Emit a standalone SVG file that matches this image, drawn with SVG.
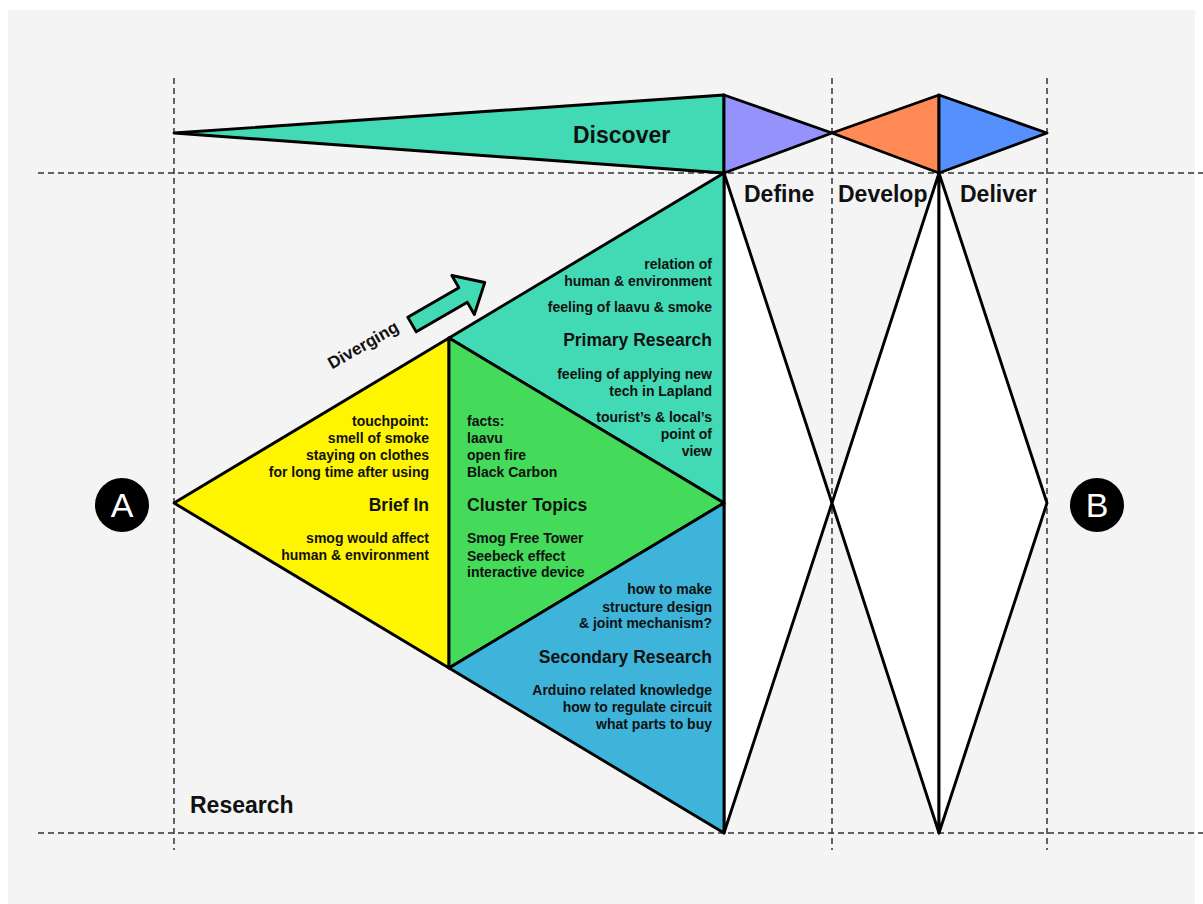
<svg xmlns="http://www.w3.org/2000/svg" width="1203" height="904" viewBox="0 0 1203 904">
<style>
.sh{stroke:#000;stroke-width:2.9;stroke-linejoin:round}
.guide{stroke:#333;stroke-width:1.5;stroke-dasharray:6 4;fill:none}
text{font-family:"Liberation Sans",Arial,sans-serif;font-weight:bold;fill:#111}
.t{font-size:14px}
.h{font-size:17.5px}
.ti{font-size:23px}
.r{text-anchor:end}
.c{font-size:34px;font-weight:normal;fill:#fff;text-anchor:middle}
</style>
<rect x="0" y="0" width="1203" height="904" fill="#ffffff"/>
<rect x="8" y="10" width="1187" height="894" fill="#f4f4f4"/>
<g id="guides">
<line class="guide" x1="38" y1="173" x2="1203" y2="173"/>
<line class="guide" x1="38" y1="833" x2="1203" y2="833"/>
<line class="guide" x1="174" y1="78" x2="174" y2="850"/>
<line class="guide" x1="832" y1="78" x2="832" y2="850"/>
<line class="guide" x1="1047" y1="78" x2="1047" y2="850"/>
</g>
<g id="discover">
<polygon class="sh" points="174,133 724,95 724,173" fill="#41dab4"/>
<text class="ti" x="573" y="142.5">Discover</text>
</g>
<g id="define-top"><polygon class="sh" points="724,95 832,133 724,173" fill="#9692fc"/></g>
<g id="develop-top"><polygon class="sh" points="832,133 939,95 939,173" fill="#ff8a56"/></g>
<g id="deliver-top"><polygon class="sh" points="939,95 1047,133 939,173" fill="#5590fc"/></g>
<g id="define">
<polygon class="sh" points="724,173 832,503 724,833" fill="#ffffff"/>
<text class="ti" x="744" y="201.5">Define</text>
</g>
<g id="develop">
<polygon class="sh" points="939,173 832,503 939,833" fill="#ffffff"/>
<text class="ti" x="838" y="201.5">Develop</text>
</g>
<g id="deliver">
<polygon class="sh" points="939,173 1047,503 939,833" fill="#ffffff"/>
<text class="ti" x="960" y="201.5">Deliver</text>
</g>
<g id="primary-research">
<polygon class="sh" points="449,338 724,173 724,503" fill="#41dab4"/>
<text class="t r" x="712" y="268.5">relation of </text>
<text class="t r" x="712" y="286">human &amp; environment</text>
<text class="t r" x="712" y="312">feeling of laavu &amp; smoke</text>
<text class="h r" x="712" y="346">Primary Research</text>
<text class="t r" x="712" y="379">feeling of applying new</text>
<text class="t r" x="712" y="396">tech in Lapland</text>
<text class="t r" x="712" y="421.5">tourist’s &amp; local’s</text>
<text class="t r" x="712" y="439">point of</text>
<text class="t r" x="712" y="456">view</text>
</g>
<g id="brief-in">
<polygon class="sh" points="174,503 449,338 449,668" fill="#fff500"/>
<text class="t r" x="429" y="425.5">touchpoint: </text>
<text class="t r" x="429" y="442.7">smell of smoke</text>
<text class="t r" x="429" y="459.5">staying on clothes</text>
<text class="t r" x="429" y="476.7">for long time after using</text>
<text class="h r" x="429" y="511">Brief In</text>
<text class="t r" x="429" y="543.3">smog would affect</text>
<text class="t r" x="429" y="560.3">human &amp; environment</text>
</g>
<g id="cluster-topics">
<polygon class="sh" points="449,338 724,503 449,668" fill="#44da5a"/>
<text class="t" x="467" y="425.5">facts:</text>
<text class="t" x="467" y="442.7">laavu</text>
<text class="t" x="467" y="459.5">open fire</text>
<text class="t" x="467" y="476.7">Black Carbon</text>
<text class="h" x="467" y="511">Cluster Topics</text>
<text class="t" x="467" y="543.3">Smog Free Tower</text>
<text class="t" x="467" y="560.5">Seebeck effect</text>
<text class="t" x="467" y="577.3">interactive device</text>
</g>
<g id="secondary-research">
<polygon class="sh" points="449,668 724,503 724,833" fill="#3eb4da"/>
<text class="t r" x="712" y="594">how to make</text>
<text class="t r" x="712" y="611.5">structure design</text>
<text class="t r" x="712" y="628.3">&amp; joint mechanism?</text>
<text class="h r" x="712" y="662.7">Secondary Research</text>
<text class="t r" x="712" y="695">Arduino related knowledge</text>
<text class="t r" x="712" y="712.3">how to regulate circuit</text>
<text class="t r" x="712" y="729.3">what parts to buy</text>
</g>
<g id="research-label">
<text class="ti" x="190" y="812.5">Research</text>
</g>
<g id="point-a">
<circle cx="122" cy="505" r="27" fill="#000"/>
<text class="c" x="122" y="517.3">A</text>
</g>
<g id="point-b">
<circle cx="1097" cy="505" r="27" fill="#000"/>
<text class="c" x="1097" y="517">B</text>
</g>
<g id="connectors">
<polygon class="sh" transform="translate(412,324.5) rotate(-30)" points="0,-8.5 59,-8.5 59,-22.5 84,0 59,22.5 59,8.5 0,8.5" fill="#41dab4"/>
<text transform="translate(366,350) rotate(-30)" x="0" y="0" style="font-size:17px;text-anchor:middle">Diverging</text>
</g>
</svg>
